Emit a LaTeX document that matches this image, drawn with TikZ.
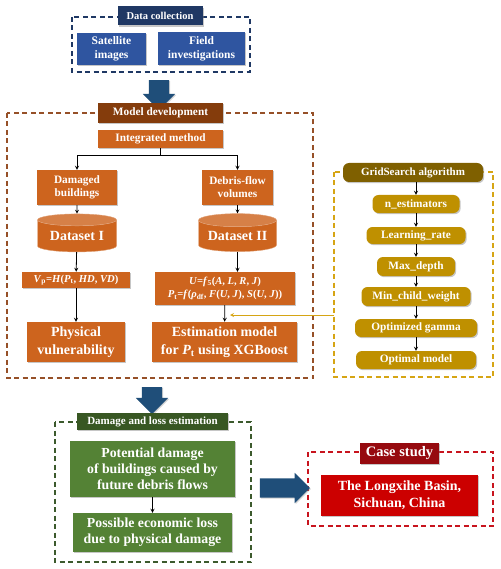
\documentclass[tikz,border=0pt]{standalone}
\usepackage{fontspec}
\setmainfont{Liberation Serif}
\usetikzlibrary{shapes.geometric, shapes.arrows, shadows}

\definecolor{navytitle}{RGB}{31,56,100}
\definecolor{navybox}{RGB}{47,85,160}
\definecolor{arrowblue}{RGB}{31,78,121}
\definecolor{browntitle}{RGB}{132,60,12}
\definecolor{orangebox}{RGB}{205,100,30}
\definecolor{brownline}{RGB}{150,80,40}
\definecolor{goldtitle}{RGB}{127,96,0}
\definecolor{goldbox}{RGB}{191,144,0}
\definecolor{goldline}{RGB}{214,165,20}
\definecolor{greentitle}{RGB}{56,87,35}
\definecolor{greenbox}{RGB}{84,130,53}
\definecolor{greenline}{RGB}{60,90,45}
\definecolor{redtitle}{RGB}{150,10,15}
\definecolor{redbox}{RGB}{204,0,0}
\definecolor{redline}{RGB}{200,20,30}

\begin{document}
\begin{tikzpicture}[x=1pt, y=-1pt,
        box/.style={rectangle, inner sep=0pt, text=white, font=\bfseries, align=center,
            drop shadow={shadow xshift=1.2pt, shadow yshift=-1.2pt, opacity=0.45}},
        navy/.style={box, fill=navytitle, font=\bfseries\fontsize{10.5}{12}\selectfont},
        bluebox/.style={box, fill=navybox, font=\bfseries\fontsize{11.5}{14}\selectfont},
        brown/.style={box, fill=browntitle, font=\bfseries\fontsize{11.3}{13}\selectfont},
        orange/.style={box, fill=orangebox, font=\bfseries\fontsize{11.3}{13}\selectfont},
        formula/.style={box, fill=orangebox, font=\bfseries\fontsize{10.6}{13.5}\selectfont},
        bigorange/.style={box, fill=orangebox, font=\bfseries\fontsize{14}{17.5}\selectfont},
        dataset/.style={cylinder, shape border rotate=90, aspect=0.22, draw=orangebox!60!white, thin,
            cylinder uses custom fill, cylinder body fill=orangebox, cylinder end fill=orangebox!82!white,
            inner sep=0pt, text=white, font=\bfseries\fontsize{14}{16}\selectfont},
        goldhead/.style={box, fill=goldtitle, rounded corners=6pt, font=\bfseries\fontsize{11}{12}\selectfont},
        gold/.style={box, fill=goldbox, rounded corners=6pt, font=\bfseries\fontsize{11.3}{12}\selectfont},
        greenhead/.style={box, fill=greentitle, font=\bfseries\fontsize{11}{12}\selectfont},
        green/.style={box, fill=greenbox, font=\bfseries\fontsize{13.8}{16}\selectfont},
        redhead/.style={box, fill=redtitle, font=\bfseries\fontsize{14.5}{16}\selectfont},
        red/.style={box, fill=redbox, font=\bfseries\fontsize{14}{17}\selectfont},
        frame/.style={dash pattern=on 5pt off 3.5pt, line width=1.2pt},
        bigarrow/.style={single arrow, fill=arrowblue, inner xsep=0pt, inner ysep=10pt,
            single arrow head extend=6pt, drop shadow={shadow xshift=1pt, shadow yshift=-1pt, opacity=0.35}},
        arrow/.style={->, >=stealth, thick},
        garrow/.style={->, >=stealth, thick, goldline}
    ]
    \useasboundingbox (0,0) rectangle (500,569);

    % frames
    \draw[frame, navytitle] (72,17) rectangle (250,72);
    \draw[frame, brownline] (7,113) rectangle (313,378);
    \draw[frame, goldline] (334,172) rectangle (493,377);
    \draw[frame, greenline] (55,422) rectangle (251,562);
    \draw[frame, redline] (308,452) rectangle (493,526);

    % Data collection
    \node[navy, minimum width=85pt, minimum height=19pt] (dctitle) at (160,16) {Data collection};
    \node[bluebox, minimum width=69pt, minimum height=32pt] (sat) at (111.5,49) {Satellite\\images};
    \node[bluebox, minimum width=87pt, minimum height=33pt] (field) at (201.5,48.5) {Field\\investigations};

    \node[bigarrow, rotate=-90, minimum height=30pt] (arr1) at (159,90) {};

    % Model development
    \node[brown, minimum width=125pt, minimum height=20pt] (mdtitle) at (160.5,113) {Model development};
    \node[orange, minimum width=125pt, minimum height=18pt] (integ) at (160.5,139) {Integrated method};
    \node[orange, minimum width=80pt, minimum height=35pt] (damaged) at (77,187.5) {Damaged\\buildings};
    \node[orange, minimum width=71pt, minimum height=35pt] (debris) at (237.5,187.5) {Debris-flow\\volumes};
    \node[dataset, minimum width=79pt, minimum height=38pt] (data1) at (77,236) {Dataset I};
    \node[dataset, minimum width=78pt, minimum height=38pt] (data2) at (237.5,236) {Dataset II};
    \node[formula, minimum width=108pt, minimum height=16pt] (vp) at (76,280)
        {\textit{V}\textsubscript{p}=\textit{H}(\textit{P}\textsubscript{t}, \textit{HD}, \textit{VD})};
    \node[formula, minimum width=140pt, minimum height=33pt] (ufun) at (225,288.5)
        {\textit{U}=\textit{f}\textsubscript{5}(\textit{A}, \textit{L}, \textit{R}, \textit{J})\\
         \textit{P}\textsubscript{t}=\textit{f}(\textit{ρ}\textsubscript{df}, \textit{F}(\textit{U}, \textit{J}), \textit{S}(\textit{U}, \textit{J}))};
    \node[bigorange, minimum width=98pt, minimum height=40pt] (physvul) at (76,342) {Physical\\vulnerability};
    \node[bigorange, minimum width=145pt, minimum height=40pt] (estim) at (224.5,342)
        {Estimation model\\for \textit{P}\textsubscript{t} using XGBoost};

    \draw[arrow] (integ.south) -- (160.5,155) -| (damaged.north);
    \draw[arrow] (integ.south) -- (160.5,155) -| (debris.north);
    \draw[arrow] (damaged) -- (data1);
    \draw[arrow] (debris) -- (data2);
    \draw[arrow] (data1) -- (vp);
    \draw[arrow] (data2.south) -- (data2.south |- ufun.north);
    \draw[arrow] (vp) -- (physvul);
    \draw[arrow] (ufun) -- (estim);

    % GridSearch side
    \node[goldhead, minimum width=140pt, minimum height=19pt] (gstitle) at (413,172.5) {GridSearch algorithm};
    \node[gold, minimum width=87pt, minimum height=18pt] (nest) at (416,204) {n\_estimators};
    \node[gold, minimum width=99pt, minimum height=17pt] (lr) at (416,235.5) {Learning\_rate};
    \node[gold, minimum width=78pt, minimum height=19pt] (mdep) at (416,266.5) {Max\_depth};
    \node[gold, minimum width=109pt, minimum height=19pt] (mcw) at (416,296.5) {Min\_child\_weight};
    \node[gold, minimum width=122pt, minimum height=18pt] (og) at (416,328) {Optimized gamma};
    \node[gold, minimum width=120pt, minimum height=18pt] (om) at (416,360) {Optimal model};

    \draw[arrow] (gstitle.south -| nest) -- (nest);
    \foreach \a/\b in {nest/lr, lr/mdep, mdep/mcw, mcw/og, og/om}
        \draw[arrow] (\a) -- (\b);

    \coordinate (gsin) at (334,315);
    \coordinate (gstip) at (230,315);
    \draw[garrow] (gsin) -- (gstip);

    \node[bigarrow, rotate=-90, minimum height=27pt] (arr2) at (152,395.5) {};

    % Damage and loss estimation
    \node[greenhead, minimum width=151pt, minimum height=17pt] (dltitle) at (152.5,421.5) {Damage and loss estimation};
    \node[green, minimum width=165pt, minimum height=56pt] (potdam) at (152.5,469)
        {Potential damage\\of buildings caused by\\future debris flows};
    \node[green, minimum width=159pt, minimum height=39pt] (econ) at (152.5,532.5)
        {Possible economic loss\\due to physical damage};
    \draw[arrow] (potdam) -- (econ);

    \node[bigarrow, inner ysep=9.5pt, single arrow head extend=5.5pt, minimum height=50pt] (arr3) at (280,488) {};

    % Case study
    \node[redhead, minimum width=79pt, minimum height=21pt] (cstitle) at (399.5,453.5) {Case study};
    \node[red, minimum width=157pt, minimum height=41pt] (longx) at (399.5,495.5)
        {The Longxihe Basin,\\Sichuan, China};

\end{tikzpicture}
\end{document}
